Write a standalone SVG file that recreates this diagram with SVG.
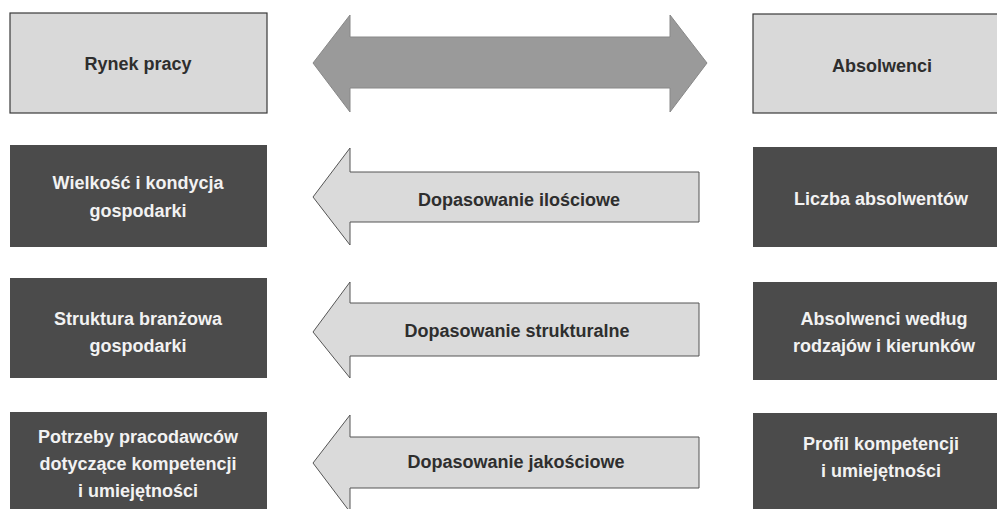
<svg xmlns="http://www.w3.org/2000/svg" width="997" height="509" viewBox="0 0 997 509">
<style>
.light{fill:#d9d9d9;stroke:#3a3a3a;stroke-width:1.2}
.dark{fill:#4b4b4b;stroke:none}
.arr{fill:#dadada;stroke:#555;stroke-width:1}
.big{fill:#9a9a9a;stroke:#888;stroke-width:1}
text{font-family:"Liberation Sans",Arial,sans-serif;font-weight:bold;font-size:18px;text-anchor:middle}
.tl{fill:#2e2e2e}
.td{fill:#f2f2f2}
</style>
<rect width="997" height="509" fill="#ffffff"/>
<g id="rynek-pracy"><rect class="light" x="10" y="13" width="257" height="100"/><text class="tl" x="138" y="70">Rynek pracy</text></g>
<g id="absolwenci"><rect class="light" x="753" y="14" width="260" height="99"/><text class="tl" x="882" y="72">Absolwenci</text></g>
<g id="wielkosc"><rect class="dark" x="10" y="145" width="257" height="102"/><text class="td" x="138" y="189">Wielkość i kondycja</text><text class="td" x="138" y="217">gospodarki</text></g>
<g id="liczba"><rect class="dark" x="753" y="147" width="260" height="100"/><text class="td" x="881" y="205">Liczba absolwentów</text></g>
<g id="struktura"><rect class="dark" x="10" y="278" width="257" height="100"/><text class="td" x="138" y="325">Struktura branżowa</text><text class="td" x="138" y="352">gospodarki</text></g>
<g id="absolwenci-wedlug"><rect class="dark" x="753" y="282" width="260" height="98"/><text class="td" x="884" y="325">Absolwenci według</text><text class="td" x="884" y="352">rodzajów i kierunków</text></g>
<g id="potrzeby"><rect class="dark" x="10" y="412" width="257" height="100"/><text class="td" x="138" y="443">Potrzeby pracodawców</text><text class="td" x="138" y="470">dotyczące kompetencji</text><text class="td" x="138" y="497">i umiejętności</text></g>
<g id="profil"><rect class="dark" x="753" y="413" width="260" height="100"/><text class="td" x="881" y="450">Profil kompetencji</text><text class="td" x="881" y="477">i umiejętności</text></g>
<g id="connectors">
<polygon class="big" points="313,63 350,15 350,37 670,37 670,15 707,63 670,112 670,88 350,88 350,112"/>
<g id="ilosciowe"><polygon class="arr" points="313,197 350,148 350,172 699,172 699,222 350,222 350,245"/><text class="tl" x="519" y="206">Dopasowanie ilościowe</text></g>
<g id="strukturalne"><polygon class="arr" points="313,332 350,282 350,303 699,303 699,356 350,356 350,378"/><text class="tl" x="517" y="337">Dopasowanie strukturalne</text></g>
<g id="jakosciowe"><polygon class="arr" points="313,463 350,415 350,437 699,437 699,488 350,488 350,512"/><text class="tl" x="516" y="468">Dopasowanie jakościowe</text></g>
</g>
</svg>
